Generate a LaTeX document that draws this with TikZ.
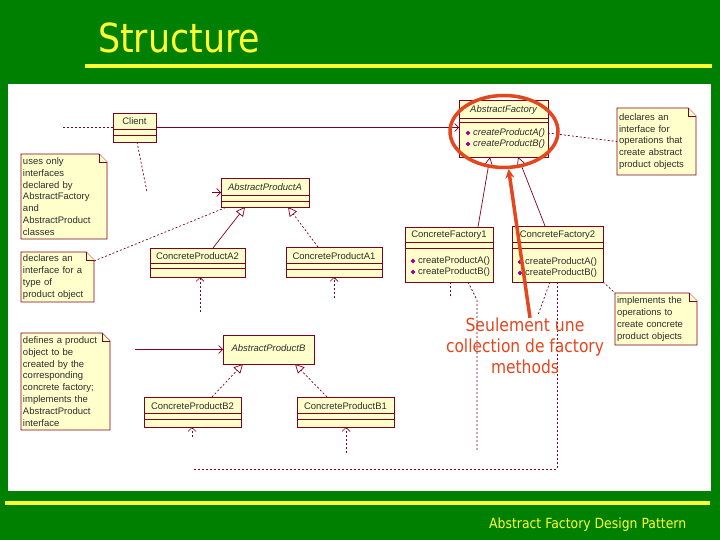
\documentclass[tikz,border=0pt]{standalone}
\usepackage{fontspec}
\setmainfont{Liberation Sans}
\newfontfamily\tahomalike{DejaVu Sans}
\usepackage{graphicx}
\usetikzlibrary{arrows.meta,shapes.geometric,backgrounds,calc}
\definecolor{bggreen}{RGB}{0,128,0}
\definecolor{ttyellow}{RGB}{255,255,51}
\definecolor{umlfill}{RGB}{255,255,204}
\definecolor{umlline}{RGB}{128,0,32}
\definecolor{umltext}{RGB}{45,45,45}
\definecolor{iconpurple}{RGB}{150,0,150}
\definecolor{redmark}{RGB}{228,70,30}
\tikzset{
  classbox/.style={draw=umlline, fill=umlfill, line width=0.8pt, anchor=north west, inner sep=0pt, outer sep=0pt},
  cname/.style={font=\fontsize{9.5}{11}\selectfont, text=umltext, inner sep=0pt},
  iname/.style={font=\fontsize{9.5}{11}\selectfont\itshape, text=umltext, inner sep=0pt},
  compline/.style={draw=umlline, line width=0.8pt},
  notebox/.style={anchor=north west, inner xsep=2pt, inner ysep=0pt, outer sep=0pt, align=left, font=\fontsize{9.5}{11.8}\selectfont, text=umltext},
  noteshape/.style={draw=umlline, fill=umlfill, line width=0.8pt},
  depline/.style={draw=umlline, line width=0.7pt, dash pattern=on 2pt off 2pt},
  solidl/.style={draw=umlline, line width=0.7pt},
  opentip/.style={-{Straight Barb[length=4pt,width=8pt]}},
  gentip/.style={-{Triangle[open,fill=white,length=9pt,width=9pt]}},
  methicon/.style={diamond, fill=iconpurple, inner sep=0pt, minimum size=5pt},
}
\begin{document}
\begin{tikzpicture}[x=1pt,y=-1pt]
\useasboundingbox (0,0) rectangle (720,540);

% title and footer
\draw[ttyellow, line width=3.5pt] (85,66) -- (712,66);
\draw[ttyellow, line width=3.5pt] (5,503) -- (710,503);
\node[anchor=base west, inner sep=0pt, text=ttyellow, font=\tahomalike\fontsize{40}{40}\selectfont] (title) at (98,53) {\resizebox{162pt}{\height}{Structure}};
\node[anchor=base west, inner sep=0pt, text=ttyellow, font=\tahomalike\fontsize{14}{14}\selectfont] (footer) at (489,528) {\resizebox{197pt}{\height}{Abstract Factory Design Pattern}};

% ---------- classes ----------
% Client
\node[classbox, minimum width=43pt, minimum height=29pt] (client) at (113,113) {};
\node[cname] (clientname) at ([yshift=-8pt]client.north) {Client};
\draw[compline] ([yshift=-16pt]client.north west) -- ([yshift=-16pt]client.north east);
\draw[compline] ([yshift=-22pt]client.north west) -- ([yshift=-22pt]client.north east);

% AbstractFactory
\node[classbox, minimum width=89pt, minimum height=57pt] (af) at (459,100) {};
\node[iname] (afname) at ([yshift=-10pt]af.north) {AbstractFactory};
\draw[compline] ([yshift=-18pt]af.north west) -- ([yshift=-18pt]af.north east);
\draw[compline] ([yshift=-22pt]af.north west) -- ([yshift=-22pt]af.north east);
\node[methicon] (afi1) at (468,133) {};
\node[methicon] (afi2) at (468,144) {};
\node[iname, anchor=west] (afm1) at (473,133) {createProductA()};
\node[iname, anchor=west] (afm2) at (473,144) {createProductB()};

% AbstractProductA
\node[classbox, minimum width=88pt, minimum height=29pt] (apa) at (221,178) {};
\node[iname] (apaname) at ([yshift=-9pt]apa.north) {AbstractProductA};
\draw[compline] ([yshift=-17pt]apa.north west) -- ([yshift=-17pt]apa.north east);
\draw[compline] ([yshift=-23pt]apa.north west) -- ([yshift=-23pt]apa.north east);

% ConcreteProductA2
\node[classbox, minimum width=95pt, minimum height=29pt] (cpa2) at (150,248) {};
\node[cname] (cpa2name) at ([yshift=-8pt]cpa2.north) {ConcreteProductA2};
\draw[compline] ([yshift=-15pt]cpa2.north west) -- ([yshift=-15pt]cpa2.north east);
\draw[compline] ([yshift=-20pt]cpa2.north west) -- ([yshift=-20pt]cpa2.north east);

% ConcreteProductA1
\node[classbox, minimum width=96pt, minimum height=30pt] (cpa1) at (286,247) {};
\node[cname] (cpa1name) at ([yshift=-9pt]cpa1.north) {ConcreteProductA1};
\draw[compline] ([yshift=-16pt]cpa1.north west) -- ([yshift=-16pt]cpa1.north east);
\draw[compline] ([yshift=-22pt]cpa1.north west) -- ([yshift=-22pt]cpa1.north east);

% ConcreteFactory1
\node[classbox, minimum width=88pt, minimum height=55pt] (cf1) at (405,227) {};
\node[cname] (cf1name) at ([yshift=-8pt]cf1.north) {ConcreteFactory1};
\draw[compline] ([yshift=-15pt]cf1.north west) -- ([yshift=-15pt]cf1.north east);
\draw[compline] ([yshift=-21pt]cf1.north west) -- ([yshift=-21pt]cf1.north east);
\node[methicon] (cf1i1) at (413,261) {};
\node[methicon] (cf1i2) at (413,272) {};
\node[cname, anchor=west] (cf1m1) at (418,261) {createProductA()};
\node[cname, anchor=west] (cf1m2) at (418,272) {createProductB()};

% ConcreteFactory2
\node[classbox, minimum width=91pt, minimum height=56pt] (cf2) at (512,226) {};
\node[cname] (cf2name) at ([yshift=-9pt]cf2.north) {ConcreteFactory2};
\draw[compline] ([yshift=-16pt]cf2.north west) -- ([yshift=-16pt]cf2.north east);
\draw[compline] ([yshift=-22pt]cf2.north west) -- ([yshift=-22pt]cf2.north east);
\node[methicon] (cf2i1) at (520,262) {};
\node[methicon] (cf2i2) at (520,273) {};
\node[cname, anchor=west] (cf2m1) at (525,262) {createProductA()};
\node[cname, anchor=west] (cf2m2) at (525,273) {createProductB()};

% AbstractProductB
\node[classbox, minimum width=91pt, minimum height=29pt] (apb) at (223,335) {};
\node[iname] (apbname) at ([yshift=-13pt]apb.north) {AbstractProductB};

% ConcreteProductB2
\node[classbox, minimum width=97pt, minimum height=30pt] (cpb2) at (144,397) {};
\node[cname] (cpb2name) at ([yshift=-9pt]cpb2.north) {ConcreteProductB2};
\draw[compline] ([yshift=-16pt]cpb2.north west) -- ([yshift=-16pt]cpb2.north east);
\draw[compline] ([yshift=-22pt]cpb2.north west) -- ([yshift=-22pt]cpb2.north east);

% ConcreteProductB1
\node[classbox, minimum width=97pt, minimum height=30pt] (cpb1) at (297,397) {};
\node[cname] (cpb1name) at ([yshift=-9pt]cpb1.north) {ConcreteProductB1};
\draw[compline] ([yshift=-16pt]cpb1.north west) -- ([yshift=-16pt]cpb1.north east);
\draw[compline] ([yshift=-22pt]cpb1.north west) -- ([yshift=-22pt]cpb1.north east);

% ---------- notes ----------
\node[notebox, text width=75pt, minimum height=67pt] (n1) at (617,108)
  {declares an\\interface for\\operations that\\create abstract\\product objects};
\node[notebox, text width=82pt, minimum height=85pt] (n2) at (21,154)
  {uses only\\interfaces\\declared by\\AbstractFactory\\and\\AbstractProduct\\classes};
\node[notebox, text width=69pt, minimum height=50pt] (n3) at (21,252)
  {declares an\\interface for a\\type of\\product object};
\node[notebox, text width=85pt, minimum height=97pt] (n4) at (21,333)
  {defines a product\\object to be\\created by the\\corresponding\\concrete factory;\\implements the\\AbstractProduct\\interface};
\node[notebox, text width=78pt, minimum height=52pt] (n5) at (615,293)
  {implements the\\operations to\\create concrete\\product objects};

% ---------- connectors ----------
\coordinate (cl0) at (63,127.5);
\draw[depline] (cl0) -- (client.west);
\draw[solidl, opentip] (client.east) -- (client.east -| af.west);
\coordinate (cl1) at (147,192);
\draw[depline] ([xshift=2.5pt]client.south) -- (cl1);
\coordinate (apastub) at (212,192.5);
\draw[solidl, opentip] (apastub) -- (apa.west);
\coordinate (apbstub) at (135,349.5);
\draw[solidl, opentip] (apbstub) -- (apb.west);

% generalizations
\draw[solidl, gentip] ([xshift=63pt]cpa2.north west) -- ([xshift=24pt]apa.south west);
\draw[depline, gentip] ([xshift=32pt]cpa1.north west) -- ([xshift=67pt]apa.south west);
\draw[solidl, gentip] ([xshift=73pt]cf1.north west) -- ([xshift=31pt]af.south west);
\draw[solidl, gentip] ([xshift=33pt]cf2.north west) -- ([xshift=59pt]af.south west);
\draw[depline, gentip] ([xshift=68pt]cpb2.north west) -- ([xshift=20pt]apb.south west);
\draw[depline, gentip] ([xshift=30pt]cpb1.north west) -- ([xshift=72pt]apb.south west);

% dependencies into products
\coordinate (d1) at (200,312);
\draw[depline, opentip] (d1) -- (d1 |- cpa2.south);
\coordinate (d2) at (334,298);
\draw[depline, opentip] (d2) -- (d2 |- cpa1.south);
\coordinate (d3) at (192,437);
\draw[depline, opentip] (d3) -- (d3 |- cpb2.south);
\coordinate (d4) at (346,453);
\draw[depline, opentip] (d4) -- (d4 |- cpb1.south);

% dependencies from concrete factories
\coordinate (f1) at (450,298);
\draw[depline] (f1 |- cf1.south) -- (f1);
\coordinate (f2a) at (477,300);
\coordinate (f2b) at (477,450);
\draw[depline] ([xshift=63pt]cf1.south west) -- (f2a) -- (f2b);
\coordinate (f3) at (538,315);
\draw[depline] ([xshift=38pt]cf2.south west) -- (f3);
\coordinate (f4a) at (557,469);
\coordinate (f4b) at (193,469);
\draw[depline] ([xshift=45pt]cf2.south west) -- (f4a) -- (f4b);

% note anchors
\draw[depline] ([yshift=-33pt]af.north east) -- (n1.west);
\draw[depline] (cf2.south east) -- (n5.north west);
\draw[depline] ([yshift=-9pt]n3.north east) -- ([xshift=6pt]apa.south west);

% ---------- red highlight ----------
\node[ellipse, draw=redmark, line width=3.5pt, minimum width=108pt, minimum height=72pt, inner sep=0pt] (hl) at (504,131.5) {};
\node[inner sep=0pt, align=center, text=redmark, font=\tahomalike\fontsize{18}{21}\selectfont] (redtext) at (525,346)
  {\resizebox{119pt}{\height}{Seulement une}\\\resizebox{158pt}{\height}{collection de factory}\\\resizebox{68pt}{\height}{methods}};
\draw[redmark, line width=3.5pt, -{Stealth[length=9pt,width=9pt]}] ([xshift=5pt]redtext.north) -- (hl.-83);

% ---------- background, notes shapes ----------
\begin{scope}[on background layer]
  \fill[bggreen] (0,0) rectangle (720,540);
  \fill[white] (8,84) rectangle (711,491);
  \foreach \n in {n1,n2,n3,n4,n5}{
    \path[noteshape] (\n.north west) -- ([xshift=-8pt]\n.north east) -- ([yshift=-8pt]\n.north east) -- (\n.south east) -- (\n.south west) -- cycle;
    \path[noteshape] ([xshift=-8pt]\n.north east) -- ([xshift=-8pt,yshift=-8pt]\n.north east) -- ([yshift=-8pt]\n.north east);
  }
\end{scope}
\end{tikzpicture}
\end{document}
